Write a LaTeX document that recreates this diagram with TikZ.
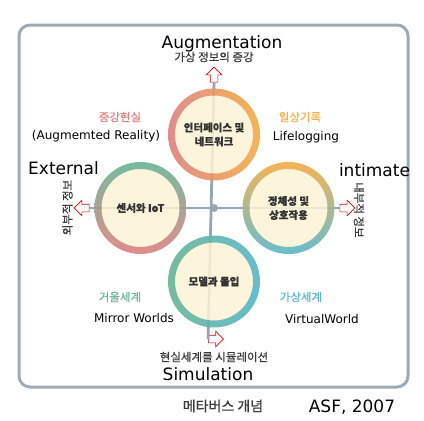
\documentclass[tikz,border=0pt]{standalone}
\usepackage{fontspec}
\setmainfont{DejaVu Sans}
\newfontfamily\kr{Noto Sans CJK KR}[FakeBold=0.5]
\usetikzlibrary{positioning,shapes.arrows}

\definecolor{framegray}{HTML}{9DABB7}
\definecolor{axisgray}{HTML}{95A6B3}
\definecolor{cream}{HTML}{FDF3D5}
\definecolor{arpink}{HTML}{DE8282}
\definecolor{lforange}{HTML}{F4AE48}
\definecolor{mwgreen}{HTML}{6AB596}
\definecolor{vwteal}{HTML}{5BB7C9}
\definecolor{subgray}{HTML}{3A3A3A}

\tikzset{
	core/.style={circle, fill=cream, fill opacity=0.85, text opacity=1, minimum size=78pt, inner sep=0pt, align=center, font=\kr\bfseries\fontsize{10.5}{14}\selectfont, text=black!80},
	redarrow/.style={single arrow, draw=red!85!black, fill=white, minimum height=15pt, inner sep=3.5pt, single arrow head extend=4pt, line width=0.6pt},
	krlabel/.style={font=\kr\fontsize{11.5}{14}\selectfont},
	enlabel/.style={font=\fontsize{12}{14}\selectfont},
	biglabel/.style={font=\fontsize{17}{20}\selectfont}
}

\begin{document}
\begin{tikzpicture}[x=1pt, y=-1pt, node distance=73.5pt, on grid]
	\useasboundingbox (0,0) rectangle (424,421);
	\draw[framegray, line width=3pt, rounded corners=11pt] (19,25) rectangle (408,387);

	% arrows at the ends of the axes
	\node (arrUp) [redarrow, shape border rotate=90] at (214,76.5) {};
	\node (arrDown) [redarrow, shape border rotate=-90] at (214,339) {};
	\node (arrLeft) [redarrow, shape border rotate=180] at (83.5,208) {};
	\node (arrRight) [redarrow] at (345.5,208) {};

	\draw[axisgray, line width=2.8pt] (arrUp.tail) -- (arrDown.tail);
	\draw[axisgray, line width=2.8pt] (arrLeft.tail) -- (arrRight.tail);
	\node (hub) [circle, fill=axisgray, minimum size=8pt, inner sep=0pt] at (214,208) {};

	% the four circles
	\node (interface) [core, above=of hub] {인터페이스 및\\네트워크};
	\node (sensor) [core, left=of hub] {센서와 IoT};
	\node (identity) [core, right=of hub, xshift=1pt] {정체성 및\\상호작용};
	\node (model) [core, below=of hub] {모델과 몰입};

	\shade[even odd rule, left color=arpink, right color=lforange, opacity=0.92] (interface.center) circle[radius=46pt] (interface.center) circle[radius=39pt];
	\shade[even odd rule, top color=mwgreen, bottom color=arpink, opacity=0.92] (sensor.center) circle[radius=46pt] (sensor.center) circle[radius=39pt];
	\shade[even odd rule, top color=lforange, bottom color=vwteal, opacity=0.92] (identity.center) circle[radius=46pt] (identity.center) circle[radius=39pt];
	\shade[even odd rule, left color=mwgreen, right color=vwteal, opacity=0.92] (model.center) circle[radius=46pt] (model.center) circle[radius=39pt];

	% axis labels
	\node (aug) [biglabel, anchor=base] at (222,48) {Augmentation};
	\node (augsub) [krlabel, text=subgray] at (214,57) {가상 정보의 증강};
	\node (simsub) [krlabel, text=subgray] at (214,357) {현실세계를 시뮬레이션};
	\node (sim) [biglabel, anchor=base] at (208,380) {Simulation};
	\node (ext) [biglabel, anchor=base] at (63.5,174) {External};
	\node (intim) [biglabel, anchor=base] at (374.5,176) {intimate};
	\node (extsub) [krlabel, text=subgray, rotate=90] at (67.5,207.5) {외부적 정보};
	\node (intsub) [krlabel, text=subgray, rotate=-90] at (359,210) {내부적 정보};

	% quadrant labels
	\node (ar) [krlabel, text=arpink] at (120,117) {증강현실};
	\node (aren) [enlabel] at (96,136) {(Augmemted Reality)};
	\node (lf) [krlabel, text=lforange] at (300,117) {일상기록};
	\node (lfen) [enlabel] at (306,137) {Lifelogging};
	\node (mw) [krlabel, text=mwgreen] at (120,297) {거울세계};
	\node (mwen) [enlabel] at (134,318) {Mirror Worlds};
	\node (vw) [krlabel, text=vwteal] at (301,297) {가상세계};
	\node (vwen) [enlabel] at (322,319) {VirtualWorld};

	% caption
	\node (cap) [font=\kr\fontsize{14}{16}\selectfont, text=subgray] at (223,406) {메타버스 개념};
	\node (src) [biglabel, anchor=base] at (352,412) {ASF, 2007};
\end{tikzpicture}
\end{document}
